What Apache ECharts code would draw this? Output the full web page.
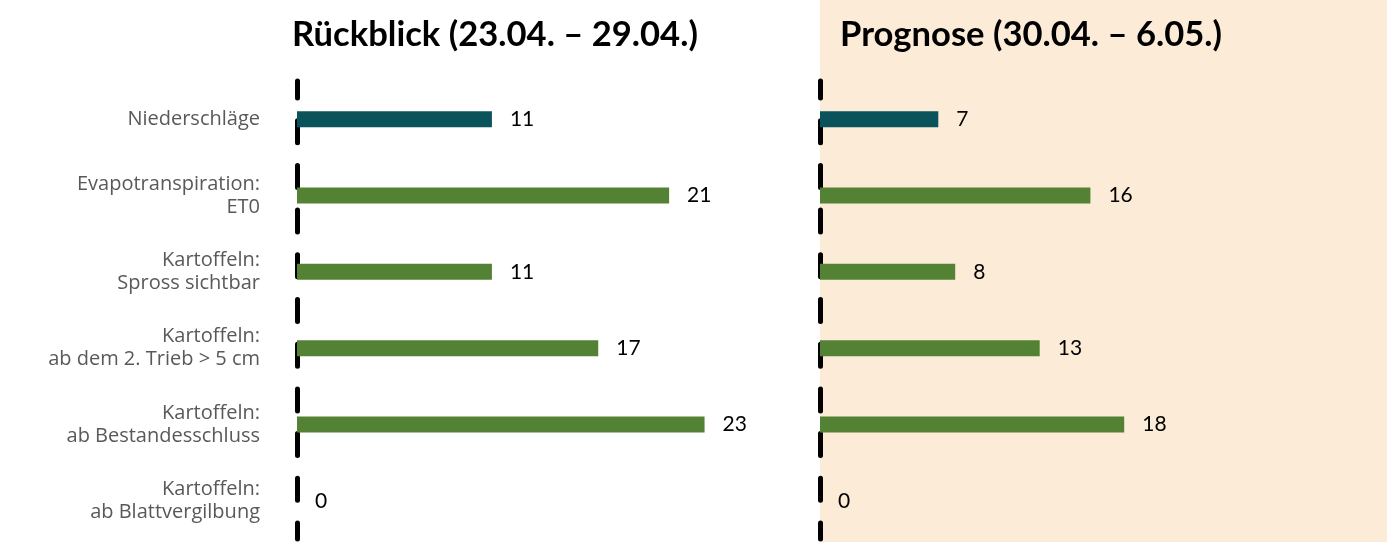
<!DOCTYPE html>
<html>
<head>
<meta charset="utf-8">
<script src="https://cdn.jsdelivr.net/npm/echarts@6/dist/echarts.min.js"></script>
<style>
html,body{margin:0;padding:0;background:#fff;}
#chart{width:1387px;height:542px;}
</style>
</head>
<body>
<div id="chart"></div>
<script>
const categories = [
  'Niederschläge',
  'Evapotranspiration:\nET0',
  'Kartoffeln:\nSpross sichtbar',
  'Kartoffeln:\nab dem 2. Trieb > 5 cm',
  'Kartoffeln:\nab Bestandesschluss',
  'Kartoffeln:\nab Blattvergilbung'
];
const rueckblickValues = [11, 21, 11, 17, 23, 0];
const prognoseValues = [7, 16, 8, 13, 18, 0];
const titleLeft = 'Rückblick (23.04. – 29.04.)';
const titleRight = 'Prognose (30.04. – 6.05.)';

const FONT = 'Lato, "Open Sans", sans-serif';
const LABEL_FONT = '"Open Sans", Lato, sans-serif';
const TEAL = '#0B535A';
const GREEN = '#548235';

function barColor(p) { return p.dataIndex === 0 ? TEAL : GREEN; }

const chart = echarts.init(document.getElementById('chart'), null, {renderer: 'canvas'});

const yAxisCommon = {
  type: 'category',
  data: categories,
  inverse: true,
  axisTick: {show: false},
  splitLine: {show: false},
  axisLine: {
    show: true,
    lineStyle: {color: '#000', width: 5, type: [22, 22.7], dashOffset: 5}
  }
};

const labelCommon = {
  show: true,
  position: 'right',
  distance: 18,
  color: '#000',
  fontFamily: FONT,
  fontSize: 21
};

chart.setOption({
  animation: false,
  backgroundColor: '#ffffff',
  graphic: [{
    type: 'rect',
    left: 820, top: 0,
    shape: {width: 567, height: 542},
    style: {fill: '#FCEBD6'},
    z: -10
  }],
  title: [
    {text: titleLeft, left: 287, top: 12,
     textStyle: {fontFamily: FONT, fontWeight: 'bold', fontSize: 34.6, color: '#000'}},
    {text: titleRight, left: 835, top: 12,
     textStyle: {fontFamily: FONT, fontWeight: 'bold', fontSize: 34.6, color: '#000'}}
  ],
  grid: [
    {left: 297, top: 81, width: 443, height: 458},
    {left: 820, top: 81, width: 507, height: 458}
  ],
  xAxis: [
    {type: 'value', gridIndex: 0, min: 0, max: 25, show: false},
    {type: 'value', gridIndex: 1, min: 0, max: 30, show: false}
  ],
  yAxis: [
    Object.assign({}, yAxisCommon, {
      gridIndex: 0,
      axisLabel: {
        show: true, margin: 37, color: '#595959',
        fontFamily: LABEL_FONT, fontSize: 20, lineHeight: 23, align: 'right'
      }
    }),
    Object.assign({}, yAxisCommon, {
      gridIndex: 1,
      axisLabel: {show: false}
    })
  ],
  series: [
    {
      type: 'bar', xAxisIndex: 0, yAxisIndex: 0,
      data: rueckblickValues, barWidth: 16,
      itemStyle: {color: barColor},
      label: labelCommon
    },
    {
      type: 'bar', xAxisIndex: 1, yAxisIndex: 1,
      data: prognoseValues, barWidth: 16,
      itemStyle: {color: barColor},
      label: labelCommon
    }
  ]
});
</script>
</body>
</html>
